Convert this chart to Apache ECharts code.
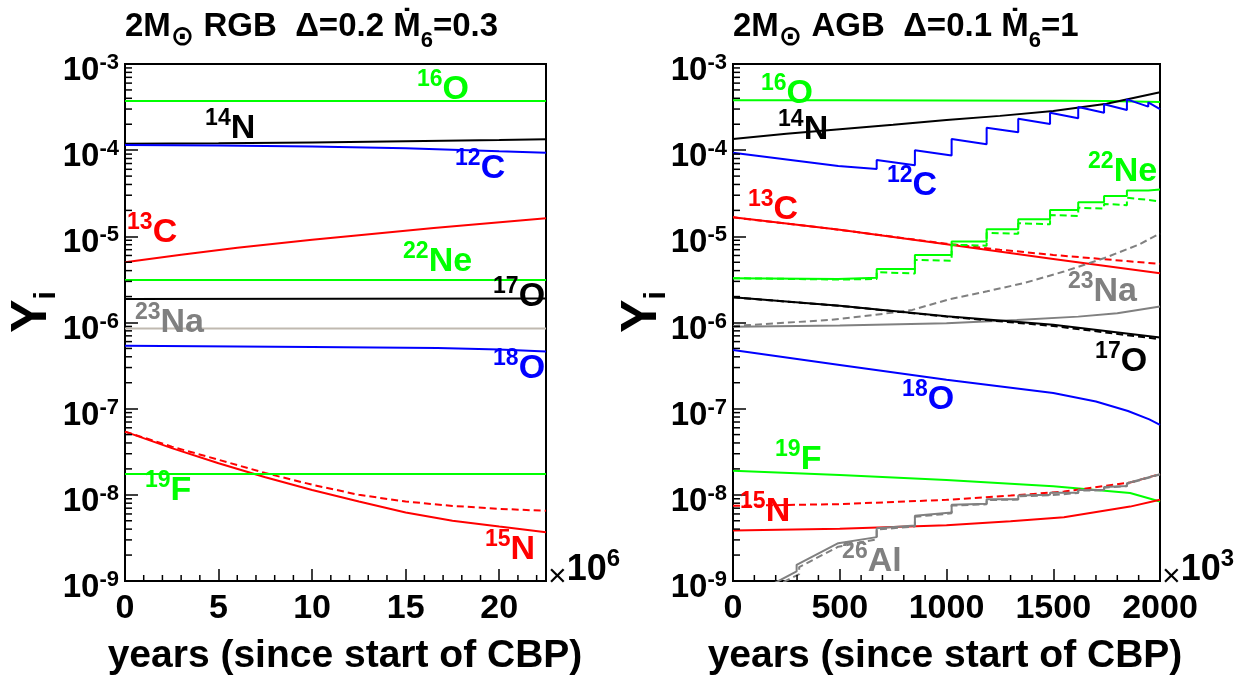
<!DOCTYPE html>
<html><head><meta charset="utf-8">
<script src="https://cdn.jsdelivr.net/npm/echarts/dist/echarts.min.js"></script>
<style>html,body{margin:0;padding:0;background:#fff}#c{width:1247px;height:688px}</style>
</head><body><div id="c"></div>
<script>
// ---------------- data ----------------
const yTickExps = [-9, -8, -7, -6, -5, -4, -3];
const rgbXMinor = [1,2,3,4,6,7,8,9,11,12,13,14,16,17,18,19,21,22];
const agbXMinor = [100,200,300,400,600,700,800,900,1100,1200,1300,1400,1600,1700,1800,1900];

// Left panel: 2 Msun RGB (x in 1e6 yr)
const rgbO16 = [[0,3.72e-4],[22.5,3.72e-4]];
const rgbN14 = [[0,1.19e-4],[5,1.2e-4],[10,1.23e-4],[15,1.27e-4],[20,1.31e-4],[22.5,1.34e-4]];
const rgbC12 = [[0,1.15e-4],[5,1.13e-4],[10,1.1e-4],[15,1.05e-4],[20,9.7e-5],[22.5,9.35e-5]];
const rgbC13 = [[0,5.0e-6],[3,6.1e-6],[6,7.35e-6],[10,9.1e-6],[12.5,1.03e-5],[16.5,1.25e-5],[22.5,1.62e-5]];
const rgbNe22 = [[0,3.12e-6],[22.5,3.12e-6]];
const rgbO17 = [[0,1.88e-6],[22.5,1.9e-6]];
const rgbNa23 = [[0,8.5e-7],[22.5,8.5e-7]];
const rgbO18 = [[0,5.37e-7],[10,5.2e-7],[16.7,5.05e-7],[20,4.85e-7],[22.5,4.6e-7]];
const rgbN15 = [[0,5.42e-8],[2.5,3.48e-8],[5,2.33e-8],[7.5,1.6e-8],[10,1.14e-8],[12.5,8.36e-9],[15,6.23e-9],[17.5,4.99e-9],[20,4.28e-9],[22.5,3.69e-9]];
const rgbN15d = [[0,5.42e-8],[2.5,3.63e-8],[5,2.55e-8],[7.5,1.79e-8],[10,1.31e-8],[12.5,1.0e-8],[15,8.36e-9],[17.5,7.44e-9],[20,6.88e-9],[22.5,6.52e-9]];
const rgbF19 = [[0,1.75e-8],[22.5,1.75e-8]];

// Right panel: 2 Msun AGB (x in 1e3 yr)
const agbO16 = [[0,3.8e-4],[500,3.8e-4],[1000,3.78e-4],[1500,3.75e-4],[1750,3.72e-4],[2000,3.62e-4]];
const agbN14 = [[0,1.35e-4],[250,1.55e-4],[500,1.75e-4],[750,1.97e-4],[1000,2.24e-4],[1250,2.5e-4],[1500,2.85e-4],[1750,3.45e-4],[2000,4.7e-4]];
const agbC12 = [[0,9.35e-5],[493,6.56e-5],[493,6.86e-5],[673,6.05e-5],[673,7.7e-5],[852,6.67e-5],[852,1.0e-4],[1024,8.65e-5],[1024,1.35e-4],[1188,1.17e-4],[1188,1.82e-4],[1336,1.61e-4],[1336,2.32e-4],[1485,2.01e-4],[1485,2.72e-4],[1617,2.34e-4],[1617,3.17e-4],[1738,2.72e-4],[1738,3.41e-4],[1845,2.92e-4],[1845,3.89e-4],[1945,3.2e-4],[1945,3.59e-4],[2000,3.0e-4]];
const agbC13 = [[0,1.66e-5],[500,1.19e-5],[1000,8.1e-6],[1500,5.47e-6],[2000,3.73e-6]];
const agbC13d = [[0,1.66e-5],[500,1.19e-5],[1000,8.2e-6],[1250,7.0e-6],[1500,6.08e-6],[2000,4.79e-6]];
const agbNe22 = [[0,3.27e-6],[493,3.2e-6],[493,3.3e-6],[673,3.3e-6],[673,4.19e-6],[852,4.19e-6],[852,6.08e-6],[1024,6.08e-6],[1024,8.69e-6],[1188,8.69e-6],[1188,1.21e-5],[1336,1.21e-5],[1336,1.58e-5],[1485,1.58e-5],[1485,2.02e-5],[1617,2.02e-5],[1617,2.48e-5],[1738,2.48e-5],[1738,2.94e-5],[1845,2.94e-5],[1845,3.4e-5],[1945,3.4e-5],[1945,3.55e-5],[2000,3.5e-5]];
const agbNe22d = [[0,3.27e-6],[493,3.15e-6],[493,3.2e-6],[673,3.2e-6],[673,3.83e-6],[852,3.7e-6],[852,5.32e-6],[1024,5.2e-6],[1024,8.0e-6],[1188,7.8e-6],[1188,1.1e-5],[1336,1.07e-5],[1336,1.42e-5],[1485,1.38e-5],[1485,1.77e-5],[1617,1.72e-5],[1617,2.15e-5],[1738,2.1e-5],[1738,2.38e-5],[1845,2.3e-5],[1845,2.8e-5],[1945,2.65e-5],[1945,2.72e-5],[2000,2.53e-5]];
const agbNa23 = [[0,8.9e-7],[500,9.2e-7],[1000,9.8e-7],[1329,1.07e-6],[1617,1.17e-6],[1800,1.28e-6],[2000,1.53e-6]];
const agbNa23d = [[0,9.1e-7],[450,1.07e-6],[660,1.22e-6],[840,1.4e-6],[1010,1.85e-6],[1190,2.3e-6],[1370,2.9e-6],[1550,3.9e-6],[1740,5.6e-6],[1900,8.0e-6],[2000,1.08e-5]];
const agbO17 = [[0,1.96e-6],[500,1.56e-6],[1000,1.18e-6],[1500,9.4e-7],[2000,6.7e-7]];
const agbO17d = [[0,1.96e-6],[500,1.56e-6],[1000,1.17e-6],[1500,9.1e-7],[2000,6.4e-7]];
const agbO18 = [[0,4.8e-7],[500,3.22e-7],[1000,2.16e-7],[1500,1.52e-7],[1700,1.21e-7],[1850,9.4e-8],[1950,7.5e-8],[2000,6.5e-8]];
const agbF19 = [[0,1.9e-8],[500,1.7e-8],[1000,1.49e-8],[1500,1.26e-8],[1700,1.14e-8],[1860,1.05e-8],[2000,8.35e-9]];
const agbN15 = [[0,3.85e-9],[500,4.05e-9],[1000,4.45e-9],[1300,4.95e-9],[1550,5.5e-9],[1860,7.3e-9],[2000,8.75e-9]];
const agbN15d = [[0,7.45e-9],[500,7.8e-9],[1000,8.75e-9],[1300,9.8e-9],[1550,1.09e-8],[1860,1.39e-8],[2000,1.74e-8]];
const agbAl26 = [[170,8.8e-10],[298,1.29e-9],[298,1.54e-9],[493,2.75e-9],[673,3.23e-9],[673,4.1e-9],[852,4.4e-9],[852,5.7e-9],[1024,6.23e-9],[1024,7.66e-9],[1188,7.86e-9],[1188,8.9e-9],[1336,8.9e-9],[1336,9.8e-9],[1485,1.0e-8],[1485,1.06e-8],[1617,1.06e-8],[1617,1.14e-8],[1738,1.14e-8],[1738,1.23e-8],[1845,1.27e-8],[1845,1.36e-8],[2000,1.74e-8]];
const agbAl26d = [[190,8.5e-10],[310,1.2e-9],[310,1.45e-9],[493,2.5e-9],[673,3.05e-9],[673,3.95e-9],[852,4.3e-9],[852,5.55e-9],[1024,6.1e-9],[1024,7.5e-9],[1188,7.75e-9],[1188,8.7e-9],[1336,8.8e-9],[1336,9.6e-9],[1485,9.9e-9],[1485,1.04e-8],[1617,1.05e-8],[1617,1.12e-8],[1738,1.13e-8],[1738,1.21e-8],[1845,1.26e-8],[1845,1.34e-8],[2000,1.72e-8]];

// isotope labels (anchor in data coordinates)
const rgbLabels = [
  ['16','O',15.6,4.99e-4,'g'],['14','N',4.28,1.76e-4,'k'],['12','C',17.64,6.05e-5,'b'],
  ['13','C',0.11,1.09e-5,'r'],['22','Ne',14.86,5.05e-6,'g'],['17','O',19.67,1.98e-6,'k'],
  ['23','Na',0.53,9.9e-7,'a'],['18','O',19.67,2.9e-7,'b'],['19','F',1.07,1.11e-8,'g'],['15','N',19.24,2.3e-9,'r']
];
const agbLabels = [
  ['16','O',131,4.49e-4,'g'],['14','N',211,1.71e-4,'k'],['12','C',721,3.85e-5,'b'],
  ['13','C',70,2.02e-5,'r'],['22','Ne',1663,5.58e-5,'g'],['23','Na',1569,2.26e-6,'a'],
  ['17','O',1696,3.49e-7,'k'],['18','O',792,1.26e-7,'b'],['19','F',197,2.55e-8,'g'],
  ['15','N',33,6.35e-9,'r'],['26','Al',511,1.67e-9,'a']
];

// ---------------- styling ----------------
const FONT = '"Liberation Sans", Arial, Helvetica, "DejaVu Sans", sans-serif';
const COL = {g:'#00ff00', b:'#0000ff', r:'#ff0000', k:'#000000', a:'#808080'};
const SILVER = '#c0b9b0';
const GRIDS = [{left:125, top:64, width:421, height:517},{left:733, top:64, width:427, height:517}];
const XR = [[0,22.5,5],[0,2000,500]];

function line(data, color, gi, dashed) {
  return {type:'line', data, xAxisIndex:gi, yAxisIndex:gi, symbol:'none', showSymbol:false,
    silent:true, clip:true, z:3,
    lineStyle:{color, width:2, type: dashed ? [7,4] : 'solid'}};
}
function yMinor(gi) {
  const d = [];
  yTickExps.slice(0,-1).forEach(e => { for (let k = 2; k <= 9; k++) d.push([XR[gi][0], k*Math.pow(10,e)]); });
  return {type:'custom', xAxisIndex:gi, yAxisIndex:gi, data:d, silent:true, z:6, clip:false,
    renderItem:(p, api) => { const c = api.coord([api.value(0), api.value(1)]);
      return {type:'line', shape:{x1:c[0], y1:c[1], x2:c[0]+7, y2:c[1]}, style:{stroke:'#000', lineWidth:1.5}}; }};
}
function xMinor(gi, vals) {
  return {type:'custom', xAxisIndex:gi, yAxisIndex:gi, data: vals.map(v => [v, 1e-9]), silent:true, z:6, clip:false,
    renderItem:(p, api) => { const c = api.coord([api.value(0), api.value(1)]);
      return {type:'line', shape:{x1:c[0], y1:c[1], x2:c[0], y2:c[1]-6}, style:{stroke:'#000', lineWidth:1.5}}; }};
}
function xAxis(gi) {
  return {gridIndex:gi, type:'value', min:XR[gi][0], max:XR[gi][1], interval:XR[gi][2],
    axisLine:{show:true, onZero:false, lineStyle:{color:'#000', width:2}},
    axisTick:{show:true, inside:true, length:12, lineStyle:{color:'#000', width:1.5}},
    splitLine:{show:false},
    axisLabel:{show:true, margin:11, color:'#000', fontSize:34, fontWeight:'bold', fontFamily:FONT,
      showMaxLabel: gi === 1, formatter: v => (v % XR[gi][2] === 0 ? String(v) : '')}};
}
function yAxis(gi) {
  return {gridIndex:gi, type:'log', logBase:10, min:1e-9, max:1e-3, splitNumber:6,
    axisLine:{show:true, lineStyle:{color:'#000', width:2}},
    axisTick:{show:true, inside:true, length:13, lineStyle:{color:'#000', width:1.5}},
    splitLine:{show:false}, minorTick:{show:false},
    axisLabel:{show:true, margin:6, padding:[14,0,0,0], color:'#000', fontFamily:FONT,
      formatter: v => '{b|10}{s|' + Math.round(Math.log10(v)) + '}',
      rich:{b:{fontSize:33, fontWeight:'bold', fontFamily:FONT, color:'#000', lineHeight:38},
            s:{fontSize:22, fontWeight:'bold', fontFamily:FONT, color:'#000', lineHeight:22, verticalAlign:'top'}}}};
}

const chart = echarts.init(document.getElementById('c'), null, {renderer:'canvas'});
chart.setOption({
  animation:false,
  backgroundColor:'#fff',
  grid: GRIDS.map(g => Object.assign({show:true, borderColor:'#000', borderWidth:2, backgroundColor:'transparent', containLabel:false}, g)),
  xAxis:[xAxis(0), xAxis(1)],
  yAxis:[yAxis(0), yAxis(1)],
  series:[
    line(rgbO16, COL.g, 0), line(rgbN14, COL.k, 0), line(rgbC12, COL.b, 0), line(rgbC13, COL.r, 0),
    line(rgbNe22, COL.g, 0), line(rgbO17, COL.k, 0), line(rgbNa23, SILVER, 0), line(rgbO18, COL.b, 0),
    line(rgbN15d, COL.r, 0, true), line(rgbN15, COL.r, 0), line(rgbF19, COL.g, 0),
    line(agbO16, COL.g, 1), line(agbN14, COL.k, 1), line(agbC12, COL.b, 1),
    line(agbC13d, COL.r, 1, true), line(agbC13, COL.r, 1),
    line(agbNe22d, COL.g, 1, true), line(agbNe22, COL.g, 1),
    line(agbNa23d, COL.a, 1, true), line(agbNa23, COL.a, 1),
    line(agbO17d, COL.k, 1, true), line(agbO17, COL.k, 1),
    line(agbO18, COL.b, 1), line(agbF19, COL.g, 1),
    line(agbN15d, COL.r, 1, true), line(agbN15, COL.r, 1),
    line(agbAl26d, COL.a, 1, true), line(agbAl26, COL.a, 1),
    yMinor(0), yMinor(1), xMinor(0, rgbXMinor), xMinor(1, agbXMinor)
  ]
});

// ---------------- texts ----------------
function isoText(lab, gi) {
  const p = chart.convertToPixel({gridIndex:gi}, [lab[2], lab[3]]);
  const c = COL[lab[4]];
  return {type:'text', x:p[0], y:p[1], silent:true, z:20,
    style:{text:'{s|' + lab[0] + '}{m|' + lab[1] + '}', align:'left', verticalAlign:'middle', fill:c,
      rich:{s:{fontSize:23, fontWeight:'bold', fontFamily:FONT, fill:c, lineHeight:23, verticalAlign:'top'},
            m:{fontSize:34, fontWeight:'bold', fontFamily:FONT, fill:c, lineHeight:44}}}};
}
function titleText(x, txtA, txtC) {
  return {type:'text', x:x, y:10, silent:true, z:20,
    style:{text:'{t|2M}{o|\u2299}{t|' + txtA + '\u1E40}{d|6}{t|' + txtC + '}', align:'left', verticalAlign:'top', fill:'#000',
      rich:{t:{fontSize:33, fontWeight:'bold', fontFamily:FONT, fill:'#000', lineHeight:33, verticalAlign:'top'},
            o:{fontSize:28, fontWeight:'bold', fontFamily:'"DejaVu Sans", sans-serif', fill:'#000', lineHeight:28, padding:[14,0,0,0], verticalAlign:'top'},
            d:{fontSize:22, fontWeight:'bold', fontFamily:FONT, fill:'#000', lineHeight:22, padding:[20,0,0,0], verticalAlign:'top'}}}};
}
function multText(x, exp) {
  return {type:'text', x:x, y:570, silent:true, z:20,
    style:{text:'{x|\u00D7}{b|10}{s|' + exp + '}', align:'left', verticalAlign:'middle', fill:'#000',
      rich:{x:{fontSize:32, fontWeight:'normal', fontFamily:FONT, fill:'#000', lineHeight:40, verticalAlign:'bottom'},
            b:{fontSize:36, fontWeight:'bold', fontFamily:FONT, fill:'#000', lineHeight:46},
            s:{fontSize:24, fontWeight:'bold', fontFamily:FONT, fill:'#000', lineHeight:24, verticalAlign:'top'}}}};
}
function yTitle(x) {
  return {type:'text', x:x, y:312, rotation:Math.PI/2, silent:true, z:20,
    style:{text:'{Y|Y}{i|i}', align:'center', verticalAlign:'top', fill:'#000',
      rich:{Y:{fontSize:50, fontWeight:'bold', fontFamily:FONT, fill:'#000', lineHeight:50, verticalAlign:'top'},
            i:{fontSize:30, fontWeight:'bold', fontFamily:FONT, fill:'#000', lineHeight:30, padding:[25,0,0,0], verticalAlign:'top'}}}};
}
function xTitle(cx) {
  return {type:'text', x:cx, y:656, silent:true, z:20,
    style:{text:'years (since start of CBP)', align:'center', verticalAlign:'middle', fill:'#000',
      font:'bold 39px ' + FONT}};
}

const graphics = [
  titleText(125, ' RGB  \u0394=0.2 ', '=0.3'),
  titleText(733, ' AGB  \u0394=0.1 ', '=1'),
  multText(548, '6'), multText(1162, '3'),
  yTitle(7), yTitle(617),
  xTitle(345), xTitle(945)
].concat(rgbLabels.map(l => isoText(l, 0)), agbLabels.map(l => isoText(l, 1)));
chart.setOption({graphic: graphics});
</script>
</body></html>
